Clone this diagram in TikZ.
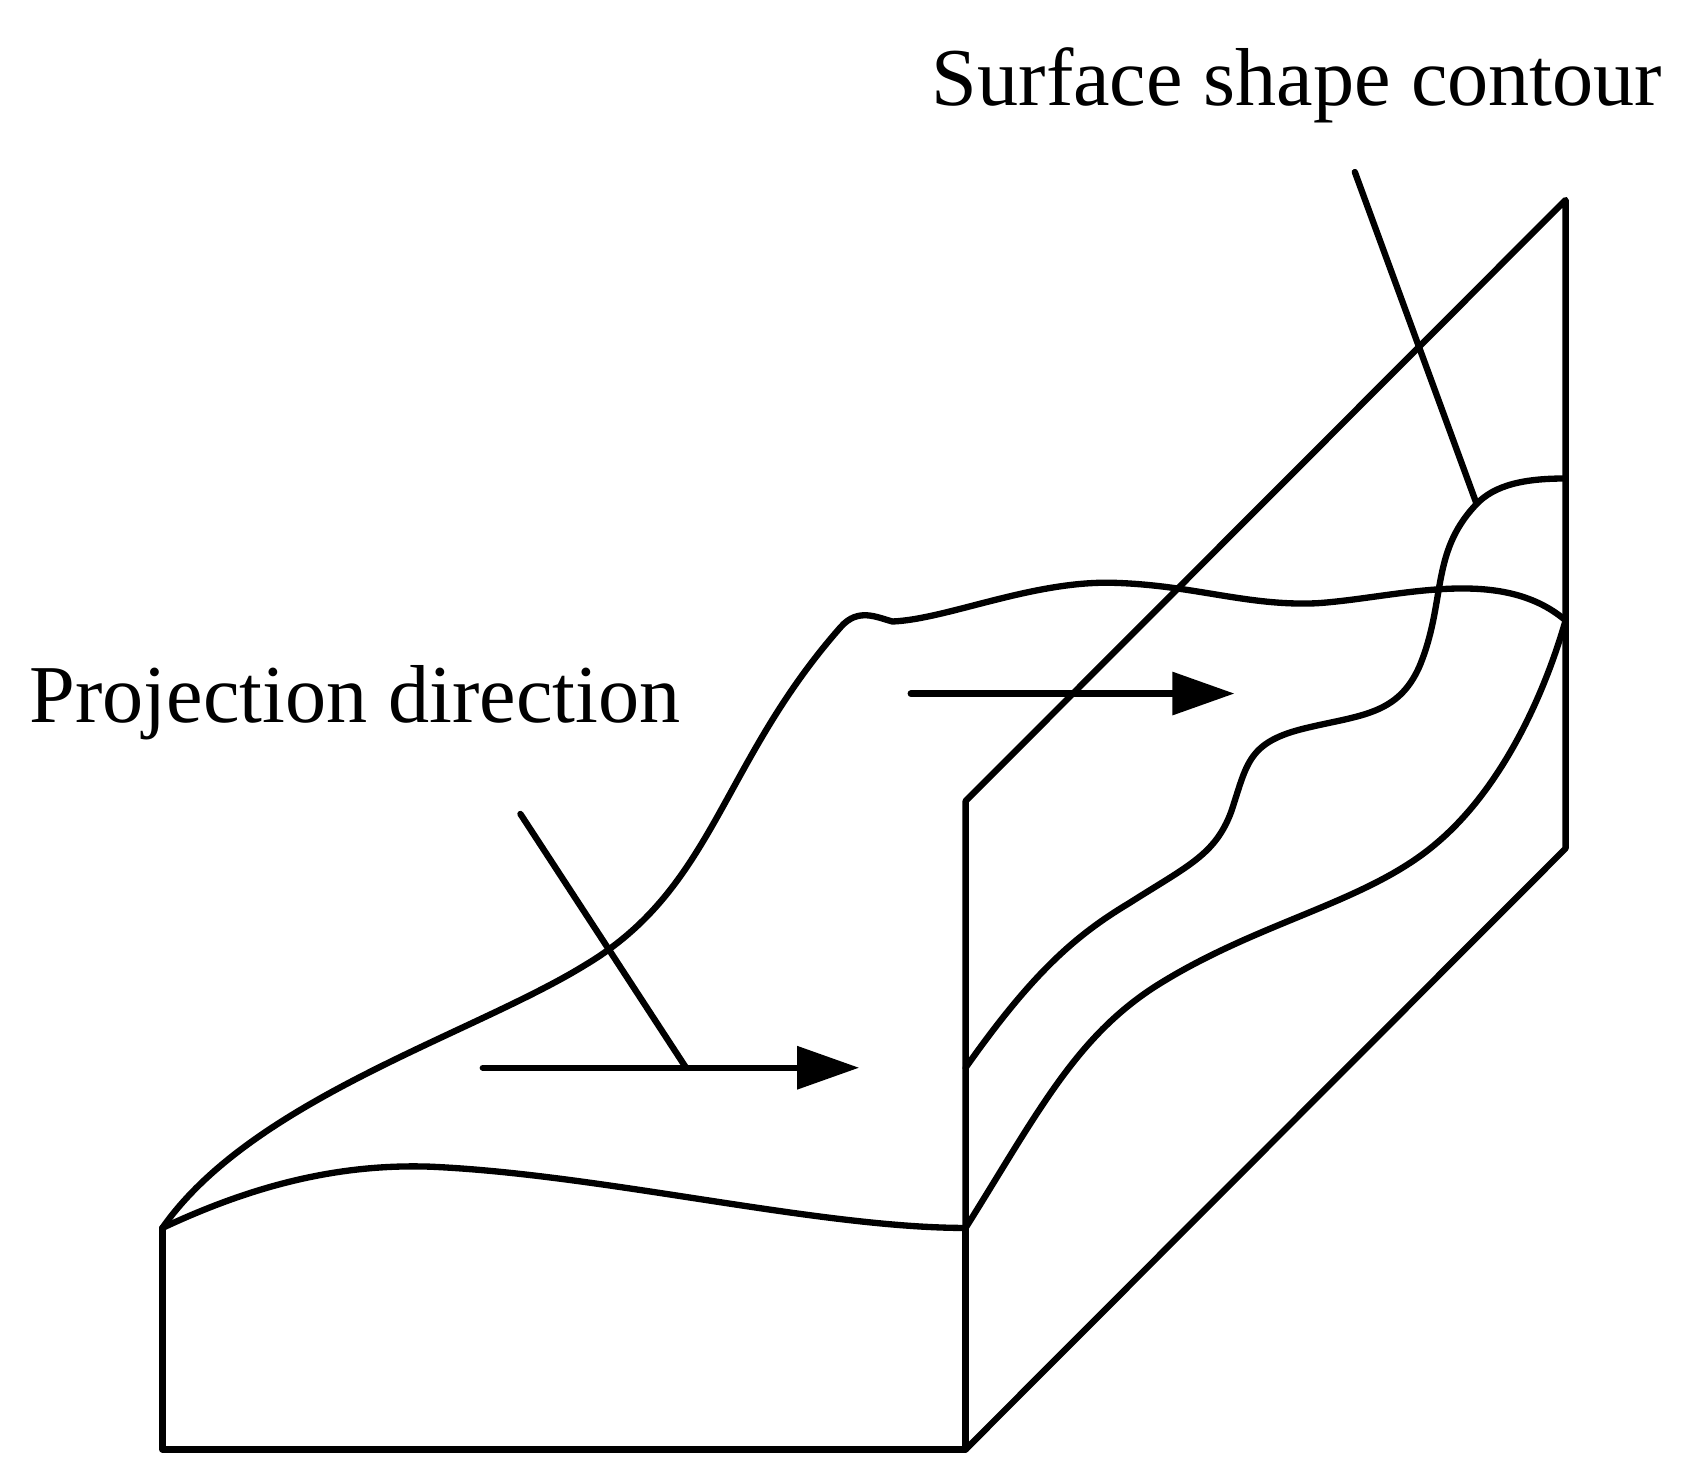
\documentclass[tikz,border=0pt]{standalone}
\usepackage{fontspec}
\setmainfont{Liberation Serif}
\usetikzlibrary{arrows.meta, positioning, calc}
\tikzset{
    edge/.style={line width=1.8pt, line join=round, line cap=round},
    flow/.style={edge, -{Triangle[length=0.62cm, width=0.42cm]}},
    caption/.style={inner sep=0pt, font=\fontsize{23.4pt}{28pt}\selectfont, anchor=base west}
}
\begin{document}
\begin{tikzpicture}[x=0.010753cm, y=-0.010753cm]
    \useasboundingbox (0,0) rectangle (1568,1379);
    % Labels
    \node[caption] (surface) at (866,98) {Surface shape contour};
    \node[caption] (projection) at (27,672) {Projection direction};

    % Block corners
    \coordinate (tl) at (151,1142);
    \coordinate (bl) at (151,1348);
    \coordinate (bm) at (898,1348);
    \coordinate (tm) at (898,1142);
    \coordinate (wallTop) at (898,745);
    \coordinate (wallFar) at (1456,186);
    \coordinate (backLow) at (1456,789);
    \coordinate (backMid) at (1456,577);
    \coordinate (backHigh) at (1456,445);
    \coordinate (wallMid) at (898,993);

    % Block outline
    \draw[edge] (tl) -- (bl) -- (bm) -- (tm);
    \draw[edge] (tm) -- (wallTop) -- (wallFar) -- (backLow) -- (bm);

    % Front edge
    \draw[edge] (tl) .. controls (230,1105) and (310,1082) .. (400,1085)
        .. controls (560,1092) and (760,1142) .. (tm);
    % Left surface edge
    \draw[edge] (tl) .. controls (235,1022) and (440,962) .. (545,897)
        .. controls (665,825) and (670,710) .. (782,583)
        .. controls (798,565) and (815,574) .. (830,578)
        .. controls (880,576) and (960,540) .. (1035,542)
        .. controls (1110,544) and (1160,564) .. (1225,561)
        .. controls (1300,556) and (1395,525) .. (backMid);
    % Lower contour on the wall
    \draw[edge] (tm) .. controls (965,1035) and (1000,965) .. (1075,917)
        .. controls (1170,857) and (1270,840) .. (1335,785)
        .. controls (1395,735) and (1435,650) .. (backMid);
    % Upper contour on the wall
    \draw[edge] (wallMid) .. controls (960,905) and (1000,870) .. (1050,840)
        .. controls (1105,805) and (1130,795) .. (1145,755)
        .. controls (1160,710) and (1160,690) .. (1215,677)
        .. controls (1265,665) and (1300,665) .. (1320,620)
        .. controls (1345,560) and (1330,515) .. (1372,470)
        .. controls (1390,450) and (1420,445) .. (backHigh);

    % Arrows
    \coordinate (lowStart) at (449,993);
    \coordinate (lowEnd) at (799,993);
    \coordinate (lowJoin) at (638,993);
    \coordinate (lowLead) at (484,757);
    \coordinate (highStart) at (847,645);
    \coordinate (highEnd) at (1148,645);
    \coordinate (tipLead) at (1260,160);
    \coordinate (tipEnd) at (1373,468);
    \draw[flow] (lowStart) -- (lowEnd);
    \draw[flow] (highStart) -- (highEnd);
    \draw[edge] (lowLead) -- (lowJoin);
    \draw[edge] (tipLead) -- (tipEnd);
\end{tikzpicture}
\end{document}
